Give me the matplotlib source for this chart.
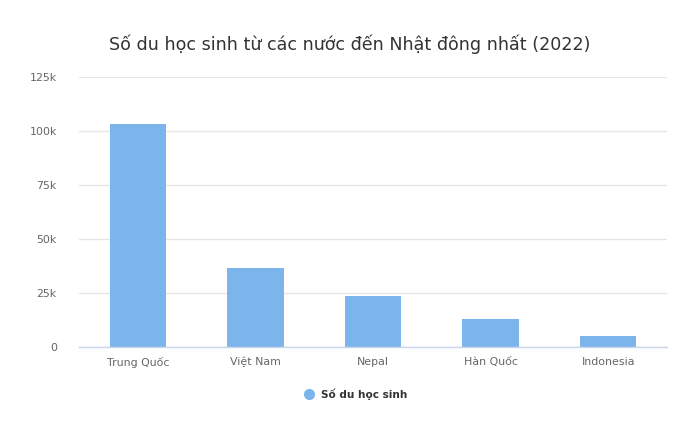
import matplotlib
matplotlib.use("Agg")
import matplotlib.pyplot as plt
from matplotlib.lines import Line2D

plt.rcParams['font.family'] = ['DejaVu Sans']

countries = ["Trung Quốc", "Việt Nam", "Nepal", "Hàn Quốc", "Indonesia"]
students = [103400, 36600, 23600, 12950, 5100]
yticks = [0, 25000, 50000, 75000, 100000, 125000]
ytick_labels = ["0", "25k", "50k", "75k", "100k", "125k"]
series_name = "Số du học sinh"
title = "Số du học sinh từ các nước đến Nhật đông nhất (2022)"

W, H = 679, 422
fig = plt.figure(figsize=(W / 100, H / 100), dpi=100)
ax = fig.add_axes([79 / W, (H - 347) / H, (667 - 79) / W, (347 - 77) / H])

x = range(len(countries))
ax.bar(x, students, width=0.48, color="#7cb5ec", zorder=3)

ax.set_xlim(-0.5, len(countries) - 0.5)
ax.set_ylim(0, 125000)
ax.set_yticks(yticks)
ax.set_yticklabels(ytick_labels)
ax.set_xticks(list(x))
ax.set_xticklabels(countries)
ax.tick_params(axis="y", length=0, pad=16, labelsize=7.9, labelcolor="#666666")
ax.tick_params(axis="x", length=0, pad=7, labelsize=7.9, labelcolor="#666666")
ax.grid(axis="y", color="#e6e6e6", linewidth=1, zorder=0)
for s in ["top", "right", "left"]:
    ax.spines[s].set_visible(False)
ax.spines["bottom"].set_color("#ccd6eb")
ax.spines["bottom"].set_linewidth(1)
ax.spines["bottom"].set_zorder(4)

fig.text(350 / W, (H - 44) / H, title, ha="center", va="center", fontsize=12.6, color="#333333")

handle = Line2D([], [], marker="o", linestyle="none", markersize=7,
                markerfacecolor="#7cb5ec", markeredgecolor="#7cb5ec")
leg = fig.legend([handle], [series_name], loc="center", bbox_to_anchor=(353 / W, (H - 394) / H),
                 frameon=False, handletextpad=0.2, prop={"size": 7.6, "weight": "bold"})
for t in leg.get_texts():
    t.set_color("#333333")

fig.savefig("out.png", dpi=100, facecolor="white")
